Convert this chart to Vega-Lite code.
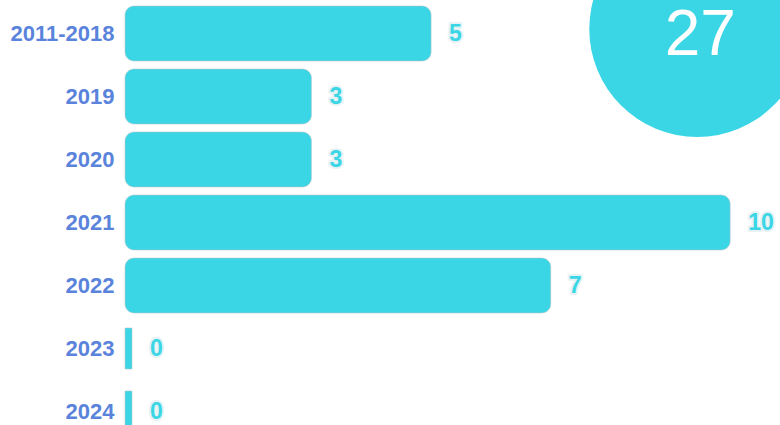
{
  "$schema": "https://vega.github.io/schema/vega-lite/v6.json",
  "width": 659,
  "height": 441,
  "autosize": {"type": "none"},
  "padding": {"left": 125, "top": 2, "right": 0, "bottom": 0},
  "background": "white",
  "config": {
    "view": {"stroke": null},
    "font": "Liberation Sans",
    "axis": {"domain": false, "ticks": false, "grid": false, "title": null, "labelFont": "Liberation Sans", "labelFontSize": 22, "labelFontWeight": "bold", "labelColor": "#5a83db", "labelPadding": 11}
  },
  "datasets": {
    "bars": [
      {"cat": "2011-2018", "value": 5},
      {"cat": "2019", "value": 3},
      {"cat": "2020", "value": 3},
      {"cat": "2021", "value": 10},
      {"cat": "2022", "value": 7},
      {"cat": "2023", "value": 0},
      {"cat": "2024", "value": 0}
    ],
    "total": [{"total": 27}]
  },
  "layer": [
    {
      "data": {"name": "bars"},
      "transform": [{"filter": "datum.value > 0"}],
      "mark": {"type": "bar", "color": "#3ad6e6", "cornerRadiusEnd": 9, "size": 55, "stroke": "#b9c4c6", "strokeWidth": 0.8, "strokeOpacity": 0.7},
      "encoding": {
        "y": {"field": "cat", "type": "nominal", "sort": null, "scale": {"paddingInner": 0, "paddingOuter": 0}},
        "x": {"field": "value", "type": "quantitative", "scale": {"domain": [-0.117, 10.9], "zero": false, "nice": false}, "axis": null},
        "x2": {"datum": -0.117}
      }
    },
    {
      "data": {"name": "bars"},
      "transform": [{"filter": "datum.value == 0"}],
      "mark": {"type": "bar", "color": "#3ad6e6", "size": 41, "stroke": "#b9c4c6", "strokeWidth": 0.8, "strokeOpacity": 0.7},
      "encoding": {
        "y": {"field": "cat", "type": "nominal", "sort": null},
        "x": {"field": "value", "type": "quantitative", "axis": null},
        "x2": {"datum": -0.117}
      }
    },
    {
      "data": {"name": "bars"},
      "mark": {"type": "text", "align": "left", "baseline": "middle", "dx": 18, "fontSize": 23, "fontWeight": "bold", "fill": "#e6f2f4", "stroke": "#e6f2f4", "strokeWidth": 4, "strokeJoin": "round"},
      "encoding": {
        "y": {"field": "cat", "type": "nominal", "sort": null},
        "x": {"field": "value", "type": "quantitative", "axis": null},
        "text": {"field": "value", "type": "quantitative"}
      }
    },
    {
      "data": {"name": "bars"},
      "mark": {"type": "text", "align": "left", "baseline": "middle", "dx": 18, "fontSize": 23, "fontWeight": "bold", "fill": "#3ad6e6"},
      "encoding": {
        "y": {"field": "cat", "type": "nominal", "sort": null},
        "x": {"field": "value", "type": "quantitative", "axis": null},
        "text": {"field": "value", "type": "quantitative"}
      }
    },
    {
      "data": {"name": "total"},
      "mark": {"type": "point", "shape": "circle", "filled": true, "color": "#3ad6e6", "opacity": 1, "size": 46656, "yOffset": -4.5},
      "encoding": {
        "x": {"datum": 9.45, "type": "quantitative", "axis": null},
        "y": {"datum": "2011-2018", "type": "nominal"}
      }
    },
    {
      "data": {"name": "total"},
      "mark": {"type": "text", "align": "center", "baseline": "alphabetic", "fontSize": 64, "color": "white", "yOffset": 21},
      "encoding": {
        "x": {"datum": 9.5, "type": "quantitative", "axis": null},
        "y": {"datum": "2011-2018", "type": "nominal"},
        "text": {"field": "total", "type": "quantitative"}
      }
    }
  ]
}
